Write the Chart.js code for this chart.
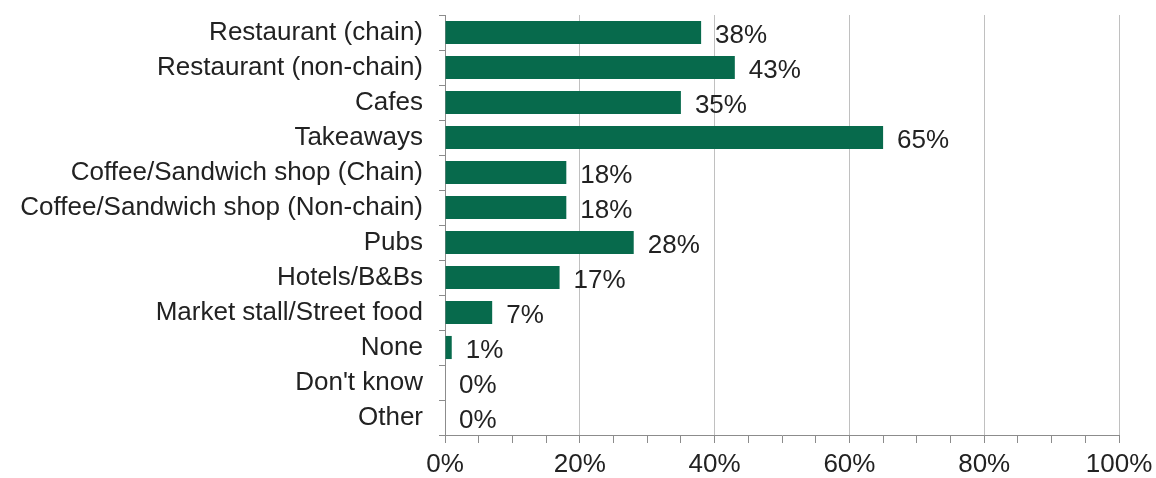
<!DOCTYPE html>
<html>
<head>
<meta charset="utf-8">
<script src="https://cdn.jsdelivr.net/npm/chart.js@4.4.1/dist/chart.umd.min.js"></script>
<style>
  html, body { margin: 0; padding: 0; background: #fff; }
  #wrap { width: 1156px; height: 478px; }
</style>
</head>
<body>
<div id="wrap"><canvas id="chart"></canvas></div>
<script>
const categories = [
  'Restaurant (chain)',
  'Restaurant (non-chain)',
  'Cafes',
  'Takeaways',
  'Coffee/Sandwich shop (Chain)',
  'Coffee/Sandwich shop (Non-chain)',
  'Pubs',
  'Hotels/B&Bs',
  'Market stall/Street food',
  'None',
  "Don't know",
  'Other'
];
const shares = [38, 43, 35, 65, 18, 18, 28, 17, 7, 1, 0, 0];

const FONT = '"Liberation Sans", Arial, sans-serif';
const GREEN = '#076a4c';
const AXIS = '#8c8c8c';

// writes "NN%" just past the end of each bar
const valueLabels = {
  id: 'valueLabels',
  afterDatasetsDraw(chart) {
    const ctx = chart.ctx;
    const meta = chart.getDatasetMeta(0);
    ctx.save();
    ctx.font = '26px ' + FONT;
    ctx.fillStyle = '#222';
    ctx.textAlign = 'left';
    ctx.textBaseline = 'middle';
    meta.data.forEach(function (bar, i) {
      ctx.fillText(shares[i] + '%', bar.x + 14, bar.y + 3);
    });
    ctx.restore();
  }
};

new Chart(document.getElementById('chart'), {
  type: 'bar',
  data: {
    labels: categories,
    datasets: [{
      data: shares,
      backgroundColor: GREEN,
      barPercentage: 0.66,
      categoryPercentage: 1
    }]
  },
  plugins: [valueLabels],
  options: {
    indexAxis: 'y',
    responsive: true,
    maintainAspectRatio: false,
    animation: false,
    layout: { padding: { top: 15, right: 37, bottom: 0, left: 0 } },
    plugins: {
      legend: { display: false },
      tooltip: { enabled: false }
    },
    scales: {
      x: {
        min: 0,
        max: 100,
        afterFit: function (scale) {
          scale.height = 43;
          scale.paddingLeft = 0;
          scale.paddingRight = 0;
        },
        ticks: {
          stepSize: 5,
          autoSkip: false,
          maxRotation: 0,
          color: '#222',
          padding: 6,
          font: { family: FONT, size: 26 },
          callback: function (v) { return v % 20 === 0 ? v + '%' : ''; }
        },
        grid: {
          color: function (c) {
            return c.tick && c.tick.value % 20 === 0 && c.tick.value !== 0 ? '#c0c0c0' : 'rgba(0,0,0,0)';
          },
          tickColor: AXIS,
          tickLength: 8,
          lineWidth: 1
        },
        border: { color: AXIS, width: 1 }
      },
      y: {
        afterFit: function (scale) {
          scale.width = 445;
          scale.paddingTop = 0;
          scale.paddingBottom = 0;
        },
        ticks: {
          autoSkip: false,
          color: '#222',
          padding: 16,
          font: { family: FONT, size: 26 }
        },
        grid: {
          offset: true,
          drawOnChartArea: false,
          tickColor: AXIS,
          tickLength: 6
        },
        border: { color: AXIS, width: 1 }
      }
    }
  }
});
</script>
</body>
</html>
